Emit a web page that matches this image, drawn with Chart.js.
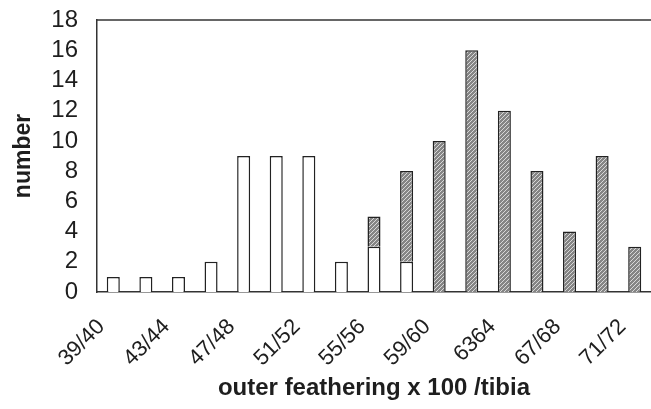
<!DOCTYPE html>
<html>
<head>
<meta charset="utf-8">
<script src="https://cdn.jsdelivr.net/npm/chart.js@4"></script>
<style>
  html, body { margin: 0; padding: 0; background: #fff; }
  #wrap { width: 651px; height: 409px; }
</style>
</head>
<body>
<div id="wrap"><canvas id="featherChart"></canvas></div>
<script>
const categories = ['39/40', '41/42', '43/44', '45/46', '47/48', '49/50', '51/52', '53/54', '55/56',
                    '57/58', '59/60', '61/62', '63/64', '65/66', '67/68', '69/70', '71/72'];
const tickLabels = ['39/40', '', '43/44', '', '47/48', '', '51/52', '', '55/56',
                    '', '59/60', '', '6364', '', '67/68', '', '71/72'];
const openValues = [1, 1, 1, 2, 9, 9, 9, 2, 3, 2, null, null, null, null, null, null, null];
const hatchedValues = [null, null, null, null, null, null, null, null, 2, 6, 10, 16, 12, 8, 4, 9, 3];
const yTicks = [0, 2, 4, 6, 8, 10, 12, 14, 16, 18];

// diagonal hatch fill for the second series
function makeHatch() {
  const c = document.createElement('canvas');
  c.width = 4; c.height = 4;
  const g = c.getContext('2d');
  g.fillStyle = '#858585';
  g.fillRect(0, 0, 4, 4);
  g.strokeStyle = '#d8d8d8';
  g.lineWidth = 1;
  g.beginPath();
  g.moveTo(0, 4); g.lineTo(4, 0);
  g.moveTo(-1, 1); g.lineTo(1, -1);
  g.moveTo(3, 5); g.lineTo(5, 3);
  g.stroke();
  return g.createPattern(c, 'repeat');
}

// top frame line of the plot area
const topLine = {
  id: 'topLine',
  afterDraw(chart) {
    const a = chart.chartArea, ctx = chart.ctx;
    ctx.save();
    ctx.strokeStyle = '#333';
    ctx.lineWidth = 1.5;
    ctx.beginPath();
    ctx.moveTo(a.left, a.top);
    ctx.lineTo(a.right, a.top);
    ctx.stroke();
    ctx.restore();
  }
};

const font = "'Liberation Sans', Arial, sans-serif";
const ctx = document.getElementById('featherChart').getContext('2d');

new Chart(ctx, {
  type: 'bar',
  data: {
    labels: categories,
    datasets: [{
      label: 'open',
      data: openValues,
      backgroundColor: '#ffffff',
      borderColor: '#222',
      borderWidth: 1.5,
      barPercentage: 0.4,
      categoryPercentage: 1
    }, {
      label: 'hatched',
      data: hatchedValues,
      backgroundColor: makeHatch(),
      borderColor: '#222',
      borderWidth: 1.5,
      barPercentage: 0.4,
      categoryPercentage: 1
    }]
  },
  options: {
    responsive: true,
    maintainAspectRatio: false,
    animation: false,
    layout: { padding: { top: 20, right: 0, left: 0, bottom: 0 } },
    plugins: { legend: { display: false }, tooltip: { enabled: false } },
    scales: {
      x: {
        stacked: true,
        grid: { display: false, drawTicks: false },
        border: { display: true, color: '#333', width: 1.5 },
        afterFit: s => { s.height = 117; s.paddingLeft = 0; s.paddingRight = 0; },
        ticks: {
          autoSkip: false,
          minRotation: 45,
          maxRotation: 45,
          padding: 22,
          labelOffset: -12,
          color: '#1e1e1e',
          font: { family: font, size: 22 },
          callback: (v, i) => tickLabels[i]
        },
        title: {
          display: true,
          text: 'outer feathering x 100 /tibia',
          color: '#1e1e1e',
          font: { family: font, size: 24, weight: 'bold' },
          padding: { top: 0, bottom: 6 }
        }
      },
      y: {
        stacked: true,
        min: 0,
        max: 18,
        grid: { display: false, drawTicks: false },
        border: { display: true, color: '#333', width: 1.5 },
        afterFit: s => { s.width = 97; s.paddingTop = 0; s.paddingBottom = 0; },
        afterBuildTicks: s => { s.ticks = yTicks.map(v => ({ value: v })); },
        ticks: {
          autoSkip: false,
          padding: 19,
          color: '#1e1e1e',
          font: { family: font, size: 24 }
        },
        title: {
          display: true,
          text: 'number',
          color: '#1e1e1e',
          font: { family: font, size: 23, weight: 'bold' },
          padding: { top: 10, bottom: 0 }
        }
      }
    }
  },
  plugins: [topLine]
});
</script>
</body>
</html>
